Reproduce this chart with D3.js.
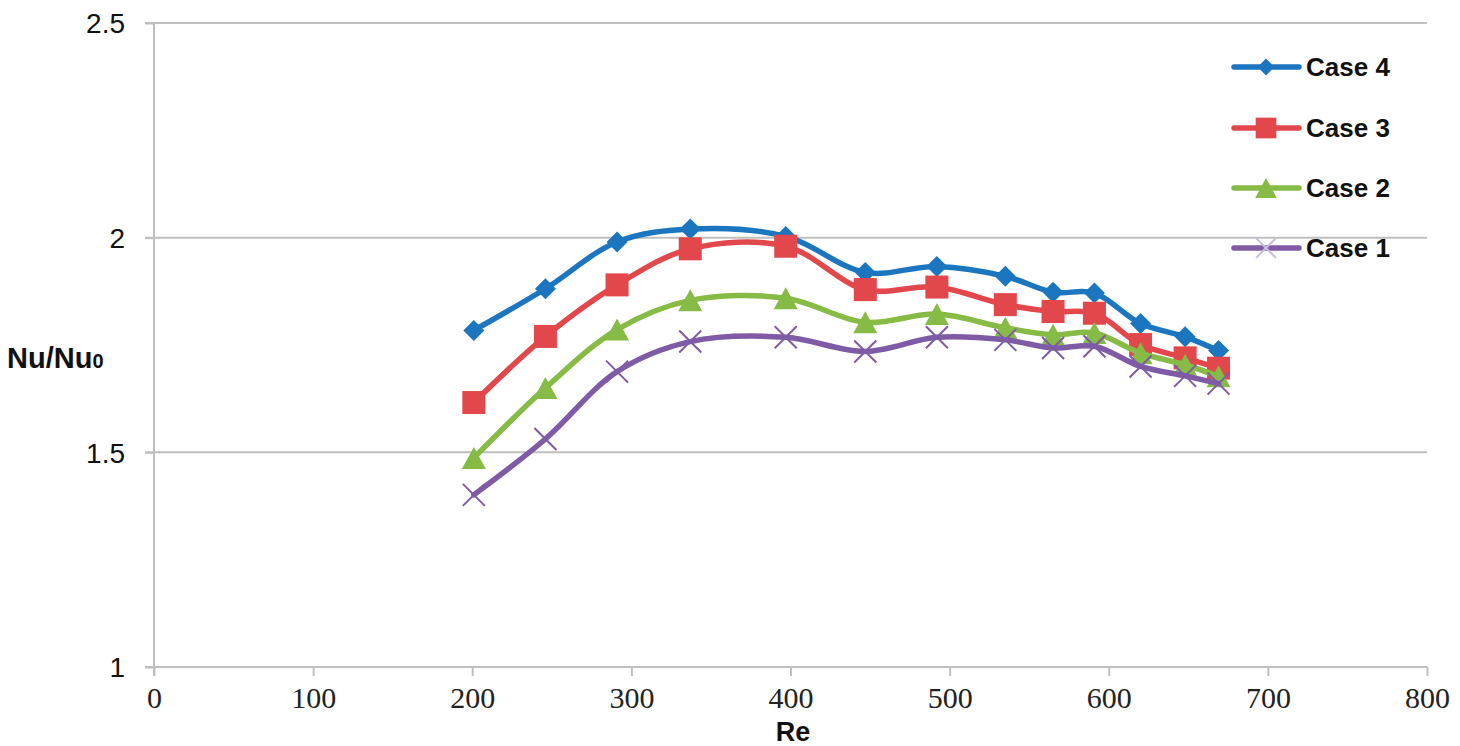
<!DOCTYPE html>
<html><head><meta charset="utf-8">
<script src="https://cdn.jsdelivr.net/npm/d3@7"></script>
<style>body{margin:0;background:#fff}svg{display:block}</style>
</head><body>
<svg id="c" width="1460" height="746"></svg>
<script>
const reValues = [201, 246, 291, 337, 397, 447, 492, 535, 565, 591, 620, 648, 669];
const case4 = [1.784, 1.881, 1.990, 2.020, 2.003, 1.919, 1.933, 1.910, 1.873, 1.871, 1.800, 1.769, 1.737];
const case3 = [1.616, 1.770, 1.890, 1.974, 1.980, 1.879, 1.885, 1.844, 1.828, 1.824, 1.751, 1.720, 1.696];
const case2 = [1.487, 1.650, 1.786, 1.854, 1.859, 1.803, 1.822, 1.790, 1.774, 1.778, 1.731, 1.704, 1.677];
const case1 = [1.401, 1.531, 1.688, 1.758, 1.768, 1.735, 1.768, 1.762, 1.743, 1.747, 1.700, 1.678, 1.660];
const seriesNames = ["Case 4", "Case 3", "Case 2", "Case 1"];
const xTicks = [0, 100, 200, 300, 400, 500, 600, 700, 800];
const yTicks = [1, 1.5, 2, 2.5];
const yTickLabels = ["1", "1.5", "2", "2.5"];

const series = [
  {name: seriesNames[0], values: case4, color: "#1b76bf", marker: "diamond"},
  {name: seriesNames[1], values: case3, color: "#e2474b", marker: "square"},
  {name: seriesNames[2], values: case2, color: "#86bb45", marker: "triangle"},
  {name: seriesNames[3], values: case1, color: "#7f5ba6", marker: "x"}
];

const svg = d3.select("#c");
const x = d3.scaleLinear().domain([0, 800]).range([154, 1427]);
const y = d3.scaleLinear().domain([1, 2.5]).range([667, 23]);
const grid = "#bfbfbf";

svg.append("g").selectAll("line").data(yTicks.filter(d => d !== 1)).join("line")
  .attr("x1", 145).attr("x2", x(800)).attr("y1", d => y(d)).attr("y2", d => y(d))
  .attr("stroke", grid).attr("stroke-width", 2);

const yAxis = svg.append("g").attr("transform", `translate(${x(0)},0)`)
  .call(d3.axisLeft(y).tickValues(yTicks).tickSize(9).tickFormat((d, i) => yTickLabels[i]));
yAxis.select(".domain").attr("stroke", grid).attr("stroke-width", 2).attr("d", `M0,${y(2.5)}V${y(1) + 9}`);
yAxis.selectAll(".tick line").attr("stroke", grid).attr("stroke-width", 2);
yAxis.selectAll(".tick text").attr("x", -29).attr("dy", "0.35em")
  .attr("font-family", "Liberation Sans, Arial, sans-serif").attr("font-size", 28).attr("fill", "#111");

const xAxis = svg.append("g").attr("transform", `translate(0,${y(1)})`)
  .call(d3.axisBottom(x).tickValues(xTicks).tickSize(9).tickFormat(d3.format("d")));
xAxis.select(".domain").attr("stroke", grid).attr("stroke-width", 2).attr("d", `M145,0H${x(800)}`);
xAxis.selectAll(".tick line").attr("stroke", grid).attr("stroke-width", 2);
xAxis.selectAll(".tick text").attr("y", 20).attr("dy", "0.71em")
  .attr("font-family", "Liberation Serif, Times New Roman, serif").attr("font-size", 30).attr("fill", "#222");

svg.append("text").attr("x", 793).attr("y", 741).attr("text-anchor", "middle")
  .attr("font-family", "Liberation Sans, Arial, sans-serif").attr("font-weight", "bold").attr("font-size", 27)
  .attr("fill", "#111").text("Re");
const yt = svg.append("text").attr("x", 7).attr("y", 368)
  .attr("font-family", "Liberation Sans, Arial, sans-serif").attr("font-weight", "bold").attr("font-size", 29)
  .attr("fill", "#111");
yt.append("tspan").text("Nu/Nu");
yt.append("tspan").attr("font-size", 20).text("0");

function drawMarker(g, type, color, cx, cy, scale) {
  const s = scale || 1;
  if (type === "diamond") {
    const r = 10.5 * s;
    g.append("path").attr("d", `M${cx},${cy - r}L${cx + r},${cy}L${cx},${cy + r}L${cx - r},${cy}Z`).attr("fill", color);
  } else if (type === "square") {
    const h = 11.5 * s;
    g.append("rect").attr("x", cx - h).attr("y", cy - h).attr("width", 2 * h).attr("height", 2 * h).attr("fill", color);
  } else if (type === "triangle") {
    const w = 12 * s, hh = 11 * s;
    g.append("path").attr("d", `M${cx},${cy - hh}L${cx + w},${cy + hh}L${cx - w},${cy + hh}Z`).attr("fill", color);
  } else {
    const r = 11 * s;
    g.append("path").attr("d", `M${cx - r},${cy - r}L${cx + r},${cy + r}M${cx - r},${cy + r}L${cx + r},${cy - r}`)
      .attr("stroke", color).attr("stroke-width", 2).attr("fill", "none");
  }
}

const line = d3.line().x(d => x(d[0])).y(d => y(d[1])).curve(d3.curveCatmullRom.alpha(0.5));

series.forEach(s => {
  const pts = reValues.map((r, i) => [r, s.values[i]]);
  const g = svg.append("g");
  g.append("path").datum(pts).attr("d", line).attr("fill", "none")
    .attr("stroke", s.color).attr("stroke-width", 5.5).attr("stroke-linejoin", "round").attr("stroke-linecap", "round");
  pts.forEach(p => drawMarker(g, s.marker, s.color, x(p[0]), y(p[1])));
});

const legendRows = [67, 128, 188, 248];
series.forEach((s, i) => {
  const g = svg.append("g");
  const ly = legendRows[i];
  g.append("line").attr("x1", 1234).attr("x2", 1299).attr("y1", ly).attr("y2", ly)
    .attr("stroke", s.color).attr("stroke-width", 5.5).attr("stroke-linecap", "round");
  drawMarker(g, s.marker, s.marker === "x" ? "#c9bddb" : s.color, 1266, ly, s.marker === "diamond" ? 0.8 : 0.9);
  g.append("text").attr("x", 1306).attr("y", ly + 9)
    .attr("font-family", "Liberation Sans, Arial, sans-serif").attr("font-weight", "bold").attr("font-size", 26)
    .attr("fill", "#111").text(s.name);
});
</script>
</body></html>
